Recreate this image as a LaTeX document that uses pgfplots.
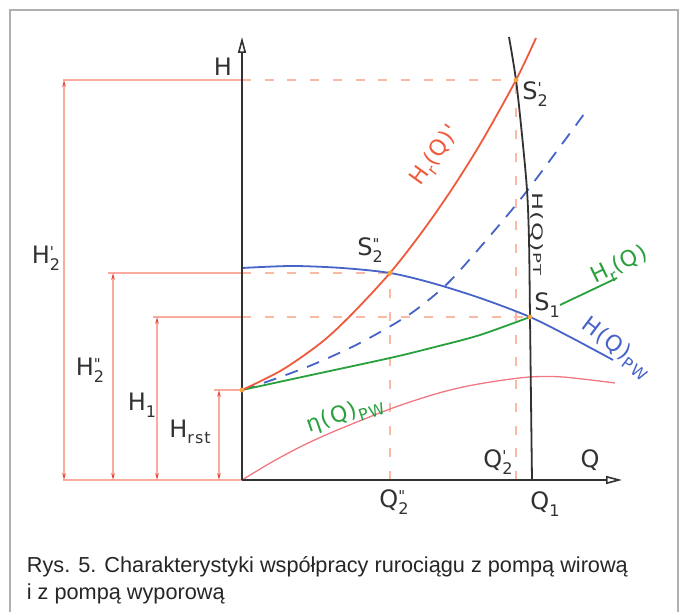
\documentclass[border=0pt]{standalone}
\usepackage{fontspec}
\setmainfont{Liberation Sans}
\newfontfamily\cad[LetterSpace=6]{DejaVu Sans}
\usepackage{pgfplots}
\pgfplotsset{compat=1.18}
\usetikzlibrary{arrows.meta}

\definecolor{framegray}{RGB}{175,175,175}
\definecolor{ax}{RGB}{50,50,50}
\definecolor{dimline}{RGB}{248,172,160}
\definecolor{dimarrow}{RGB}{235,70,60}
\definecolor{dashsalmon}{RGB}{250,185,165}
\definecolor{hred}{RGB}{240,90,60}
\definecolor{hblue}{RGB}{70,100,200}
\definecolor{hgreen}{RGB}{40,160,60}
\definecolor{etared}{RGB}{240,120,130}
\definecolor{dotorange}{RGB}{245,165,60}

% subscript, and prime over subscript
\newcommand\sub[1]{\raisebox{-0.5ex}{\fontsize{16}{16}\selectfont #1}}
\newcommand\ps[2]{\rlap{\raisebox{0.45ex}{\fontsize{15}{15}\selectfont #1}}\raisebox{-0.5ex}{\fontsize{16}{16}\selectfont #2}}

\begin{document}
\begin{tikzpicture}[
  lab/.style={font=\cad\fontsize{24}{24}\selectfont, text=ax, inner sep=0pt},
  rlab/.style={font=\cad\fontsize{22}{22}\selectfont, inner sep=0pt},
  dims/.style={dimline, line width=1.2pt,
    {Stealth[length=7pt,width=3.5pt,color=dimarrow]}-{Stealth[length=7pt,width=3.5pt,color=dimarrow]}},
  dsh/.style={dashsalmon, line width=1.3pt, dash pattern=on 9pt off 13.7pt},
]
\begin{axis}[
  scale only axis, width=686pt, height=612pt,
  xmin=-242, xmax=444, ymin=-132, ymax=480,
  hide axis, clip=false,
]
% background and frame
\addplot[fill=white, draw=none] coordinates {(-242,-132) (444,-132) (444,480) (-242,480)} \closedcycle;
\addplot[framegray, line width=1.5pt] coordinates {(-232,-132) (-232,470) (436,470) (436,-132)};

% dimension lines
\addplot[dimline, line width=1.2pt] coordinates {(-179,400) (0,400)};
\addplot[dimline, line width=1.2pt] coordinates {(-134,207) (0,207)};
\addplot[dimline, line width=1.2pt] coordinates {(-89,163) (0,163)};
\addplot[dimline, line width=1.2pt] coordinates {(-28,90) (0,90)};
\addplot[dimline, line width=1.2pt] coordinates {(-179,0) (0,0)};
\addplot[dims] coordinates {(-178,0) (-178,400)};
\addplot[dims] coordinates {(-129,0) (-129,207)};
\addplot[dims] coordinates {(-85,0) (-85,163)};
\addplot[dims] coordinates {(-23,0) (-23,90)};
\addplot[dsh] coordinates {(0,400) (274,400)};
\addplot[dsh] coordinates {(0,207) (148,207)};
\addplot[dsh] coordinates {(0,163) (288,163)};
\addplot[dsh] coordinates {(148,0) (148,207)};
\addplot[dsh] coordinates {(274,0) (274,400)};

% curves
\addplot[etared, line width=1.3pt, smooth] coordinates {
  (0,0) (30,18) (60,34) (93,49) (148,71) (190,85) (221,93) (255,99) (288,103) (321,103) (373,97)};
\addplot[hblue, line width=1.8pt, dash pattern=on 13pt off 10pt, smooth] coordinates {
  (0,90) (30,100) (70,115) (110,133) (140,149) (171,168) (205,196) (241,236) (285,289) (345,370)};
\addplot[hgreen, line width=1.8pt, smooth] coordinates {
  (0,90) (60,103) (148,122) (193,133) (238,145) (288,163)};
\addplot[hgreen, line width=1.8pt] coordinates {(318,175) (375,202)};
\addplot[hblue, line width=1.8pt, smooth] coordinates {
  (0,212) (50,214) (100,212) (148,207) (190,197) (238,182) (288,163) (330,142) (371,120)};
\addplot[hred, line width=1.8pt, smooth] coordinates {
  (0,90) (40,110) (80,138) (110,166) (148,207) (180,248) (210,291) (240,339) (274,400) (294,442)};
\addplot[ax, line width=1.8pt, smooth] coordinates {
  (267,443) (274,400) (280,345) (285,290) (287,240) (288,163) (289,80) (290,0)};

% axes
\addplot[ax, line width=2.2pt, -{Triangle[open,length=16pt,width=8pt,line width=1.6pt]}] coordinates {(0,0) (0,443)};
\addplot[ax, line width=2.2pt, -{Triangle[open,length=16pt,width=8pt,line width=1.6pt]}] coordinates {(0,0) (380,0)};

% intersection points
\addplot[only marks, mark=*, mark size=2.2pt, color=dotorange] coordinates {(0,90) (148,207) (288,163) (274,400)};

% labels
\node[lab] at (axis cs:-19,413) {H};
\node[lab] at (axis cs:348,20) {Q};
\node[lab] at (axis cs:256,18) {Q\ps{'}{2}};
\node[lab] at (axis cs:152,-22) {Q\ps{"}{2}};
\node[lab] at (axis cs:303,-24) {Q\sub{1}};
\node[lab] at (axis cs:-196,222) {H\ps{'}{2}};
\node[lab] at (axis cs:-152,110) {H\ps{"}{2}};
\node[lab] at (axis cs:-100,75) {H\sub{1}};
\node[lab] at (axis cs:-52,48) {H\sub{rst}};
\node[lab] at (axis cs:293,386) {S\ps{'}{2}};
\node[lab] at (axis cs:128,230) {S\ps{"}{2}};
\node[lab] at (axis cs:305,175) {S\sub{1}};
\node[rlab, text=hred, rotate=54] at (axis cs:194,324) {H\sub{r}(Q)'};
\node[lab, rotate=-90, anchor=base west] at (axis cs:290,288)
  {\scalebox{1}[0.6]{H(Q)\raisebox{0.2ex}{\fontsize{18}{18}\selectfont PT}}};
\node[rlab, text=hgreen, rotate=26] at (axis cs:378,214) {H\sub{r}(Q)};
\node[rlab, text=hblue, rotate=-37] at (axis cs:374,132) {H(Q)\sub{PW}};
\node[rlab, text=hgreen, rotate=19] at (axis cs:103,65) {η(Q)\sub{PW}};

% caption
\node[anchor=base west, inner sep=0pt, font=\fontsize{21.7}{26}\selectfont, text=black!85]
  at (axis cs:-215.3,-92.3) {Rys. 5. Charakterystyki współpracy rurociągu z pompą wirową};
\node[anchor=base west, inner sep=0pt, font=\fontsize{21.7}{26}\selectfont, text=black!85]
  at (axis cs:-215.3,-120) {i z pompą wyporową};
\end{axis}
\end{tikzpicture}
\end{document}
